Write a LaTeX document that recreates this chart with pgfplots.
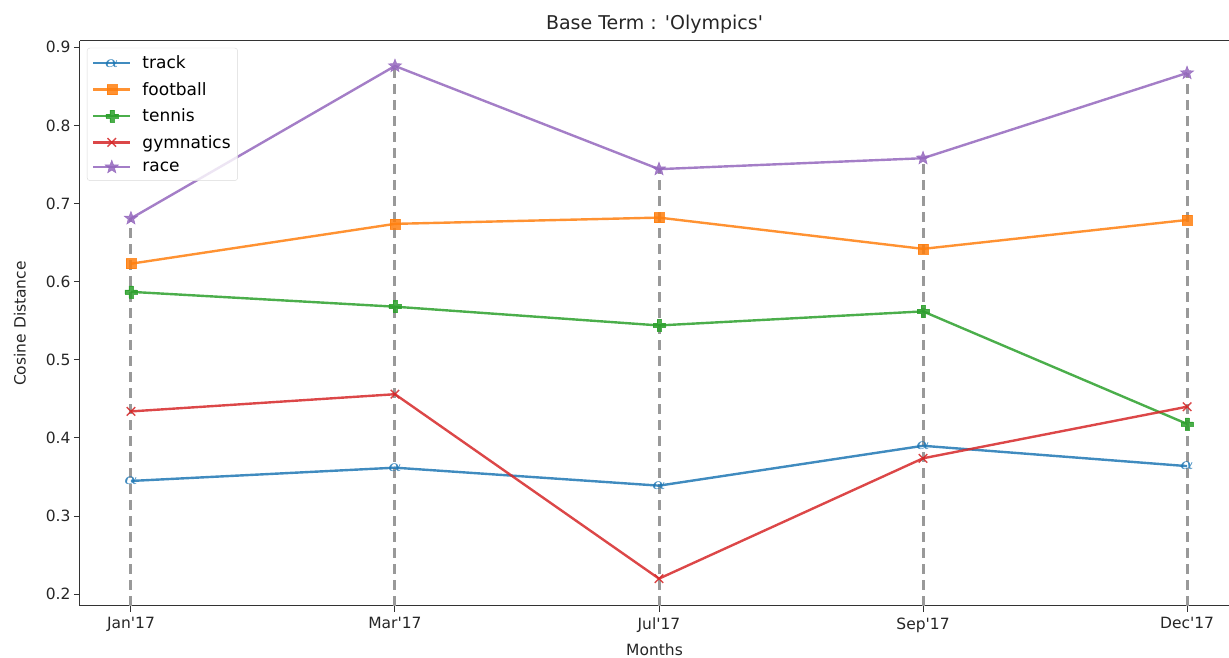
\documentclass[border=0pt]{standalone}
\usepackage{pgfplots}
\pgfplotsset{compat=1.18}
\usepackage{fontspec}
\setmainfont{DejaVu Sans}
\definecolor{c0}{HTML}{1F77B4}
\definecolor{c1}{HTML}{FF7F0E}
\definecolor{c2}{HTML}{2CA02C}
\definecolor{c3}{HTML}{D62728}
\definecolor{c4}{HTML}{9467BD}
\pgfdeclareplotmark{fstar}{%
  \pgfpathmoveto{\pgfpointpolar{90}{\pgfplotmarksize}}%
  \pgfpathlineto{\pgfpointpolar{126}{0.42\pgfplotmarksize}}%
  \pgfpathlineto{\pgfpointpolar{162}{\pgfplotmarksize}}%
  \pgfpathlineto{\pgfpointpolar{198}{0.42\pgfplotmarksize}}%
  \pgfpathlineto{\pgfpointpolar{234}{\pgfplotmarksize}}%
  \pgfpathlineto{\pgfpointpolar{270}{0.42\pgfplotmarksize}}%
  \pgfpathlineto{\pgfpointpolar{306}{\pgfplotmarksize}}%
  \pgfpathlineto{\pgfpointpolar{342}{0.42\pgfplotmarksize}}%
  \pgfpathlineto{\pgfpointpolar{18}{\pgfplotmarksize}}%
  \pgfpathlineto{\pgfpointpolar{54}{0.42\pgfplotmarksize}}%
  \pgfpathclose\pgfusepathqfillstroke}
\pgfdeclareplotmark{fplus}{%
  \pgfpathmoveto{\pgfqpoint{-0.33\pgfplotmarksize}{\pgfplotmarksize}}%
  \pgfpathlineto{\pgfqpoint{0.33\pgfplotmarksize}{\pgfplotmarksize}}%
  \pgfpathlineto{\pgfqpoint{0.33\pgfplotmarksize}{0.33\pgfplotmarksize}}%
  \pgfpathlineto{\pgfqpoint{\pgfplotmarksize}{0.33\pgfplotmarksize}}%
  \pgfpathlineto{\pgfqpoint{\pgfplotmarksize}{-0.33\pgfplotmarksize}}%
  \pgfpathlineto{\pgfqpoint{0.33\pgfplotmarksize}{-0.33\pgfplotmarksize}}%
  \pgfpathlineto{\pgfqpoint{0.33\pgfplotmarksize}{-\pgfplotmarksize}}%
  \pgfpathlineto{\pgfqpoint{-0.33\pgfplotmarksize}{-\pgfplotmarksize}}%
  \pgfpathlineto{\pgfqpoint{-0.33\pgfplotmarksize}{-0.33\pgfplotmarksize}}%
  \pgfpathlineto{\pgfqpoint{-\pgfplotmarksize}{-0.33\pgfplotmarksize}}%
  \pgfpathlineto{\pgfqpoint{-\pgfplotmarksize}{0.33\pgfplotmarksize}}%
  \pgfpathlineto{\pgfqpoint{-0.33\pgfplotmarksize}{0.33\pgfplotmarksize}}%
  \pgfpathclose\pgfusepathqfillstroke}
\begin{document}
\begin{tikzpicture}
\begin{axis}[
  scale only axis,
  width=1149pt, height=565pt,
  xmin=-0.193, xmax=4.159,
  ymin=0.185, ymax=0.908,
  axis x line=box, axis y line=left,
  axis line style={line width=1pt, black!80, -},
  xtick={0,1,2,3,4},
  xticklabels={Jan\textquotesingle17,Mar\textquotesingle17,Jul\textquotesingle17,Sep\textquotesingle17,Dec\textquotesingle17},
  ytick={0.2,0.3,0.4,0.5,0.6,0.7,0.8,0.9},
  yticklabel style={/pgf/number format/fixed,/pgf/number format/precision=1,/pgf/number format/fixed zerofill},
  /pgf/number format/assume math mode=true,
  xtick pos=bottom, ytick pos=left,
  tick align=outside,
  major tick length=6pt,
  tick style={line width=1pt, black!80},
  ticklabel style={font=\fontsize{15.5}{18}\selectfont, text=black!85},
  xticklabel style={yshift=-2pt},
  title={Base Term : \textquotesingle Olympics\textquotesingle},
  title style={font=\fontsize{19}{22}\selectfont, text=black!85, at={(0.5,1)}, anchor=south, yshift=-2pt},
  xlabel={Months},
  ylabel={Cosine Distance},
  label style={font=\fontsize{15.5}{18}\selectfont, text=black!85},
  xlabel style={yshift=-4pt},
  ylabel style={yshift=13pt},
  legend style={at={(0.006,0.988)}, anchor=north west, draw=black!15, rounded corners=3pt,
    font=\fontsize{17}{20}\selectfont, fill=white, fill opacity=0.8, text opacity=1,
    row sep=8pt, inner xsep=5pt, inner ysep=6pt},
  legend cell align=left,
  legend image code/.code={\draw[mark repeat=2,mark phase=2] plot coordinates {(0pt,0pt) (18.5pt,0pt) (37pt,0pt)};\path (46pt,0pt);},
  every axis plot/.append style={line width=2.4pt},
]
\addplot[forget plot, ycomb, draw=gray!80, line width=3pt, dash pattern=on 10pt off 6pt, mark=none]
  coordinates {(0,0.681) (1,0.876) (2,0.744) (3,0.758) (4,0.867)};
\addplot[c0, opacity=0.85, mark=text, text mark={\fontsize{18}{18}\selectfont\textcolor{c0}{\boldmath$\alpha$}}]
  coordinates {(0,0.345) (1,0.362) (2,0.339) (3,0.390) (4,0.364)};
\addlegendentry{track}
\addplot[c1, opacity=0.85, mark=square*, mark size=5pt, mark options={fill=c1, draw=c1, line width=0.5pt}]
  coordinates {(0,0.623) (1,0.674) (2,0.682) (3,0.642) (4,0.679)};
\addlegendentry{football}
\addplot[c2, opacity=0.85, mark=fplus, mark size=6pt, mark options={fill=c2, draw=c2, line width=0.5pt}]
  coordinates {(0,0.587) (1,0.568) (2,0.544) (3,0.562) (4,0.418)};
\addlegendentry{tennis}
\addplot[c3, opacity=0.85, mark=x, mark size=6pt, mark options={line width=1.4pt}]
  coordinates {(0,0.434) (1,0.456) (2,0.220) (3,0.374) (4,0.440)};
\addlegendentry{gymnatics}
\addplot[c4, opacity=0.85, mark=fstar, mark size=7pt, mark options={fill=c4, draw=c4, line width=0.5pt}]
  coordinates {(0,0.681) (1,0.876) (2,0.744) (3,0.758) (4,0.867)};
\addlegendentry{race}
\end{axis}
\pgfresetboundingbox
\useasboundingbox (-80pt,-52pt) rectangle (1149pt,606pt);
\end{tikzpicture}
\end{document}
